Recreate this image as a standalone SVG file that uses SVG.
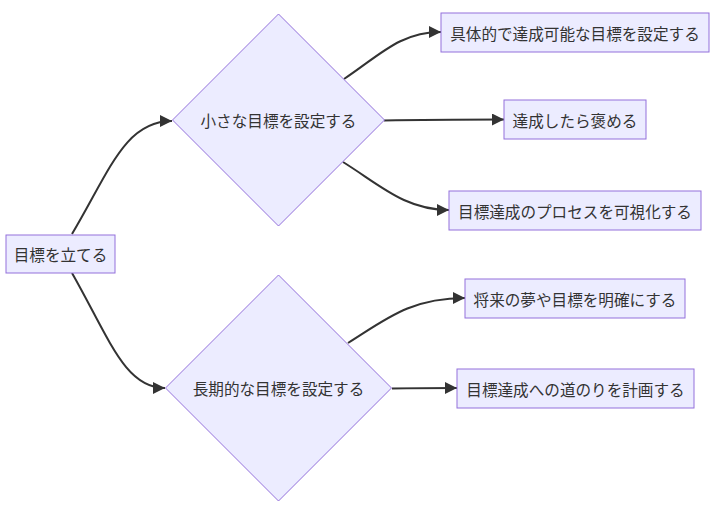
<svg xmlns="http://www.w3.org/2000/svg" width="724" height="512" viewBox="0 0 724 512">
<style>
.node rect, .node polygon { fill: #ECECFF; stroke: #9370DB; stroke-width: 1; }
.node text { font-family: "Noto Sans CJK JP", "Noto Sans", sans-serif; font-size: 15.6px; fill: #333333; text-anchor: middle; dominant-baseline: central; }
.edges path { fill: none; stroke: #333333; stroke-width: 2; }
</style>
<defs>
<marker id="arrow" viewBox="0 0 10 10" refX="10" refY="5" markerUnits="userSpaceOnUse" markerWidth="12" markerHeight="12" orient="auto">
<path d="M0,0 L10,5 L0,10 z" fill="#333333"/>
</marker>
</defs>
<rect width="724" height="512" fill="#ffffff"/>
<g class="edges">
<path d="M72,234 C110,170 125,121 172,121" marker-end="url(#arrow)"/>
<path d="M72,273 C110,340 125,388 165,388" marker-end="url(#arrow)"/>
<path d="M344,79 C380,55 400,32 441,32" marker-end="url(#arrow)"/>
<path d="M384,120.5 C430,119.5 460,119.5 504,119.5" marker-end="url(#arrow)"/>
<path d="M343,162 C380,185 405,210 449,210" marker-end="url(#arrow)"/>
<path d="M348,343 C385,320 410,298 465,298" marker-end="url(#arrow)"/>
<path d="M392,388.5 C420,388 430,388 457,388" marker-end="url(#arrow)"/>
</g>
<g id="root" class="node">
<rect x="6" y="235" width="109" height="38"/>
<text x="60.5" y="254">目標を立てる</text>
</g>
<g id="small" class="node">
<polygon points="278.5,14 384.5,120 278.5,226 172.5,120"/>
<text x="278.5" y="120">小さな目標を設定する</text>
</g>
<g id="long" class="node">
<polygon points="278.5,275 391.5,388 278.5,501 165.5,388"/>
<text x="278.5" y="388">長期的な目標を設定する</text>
</g>
<g id="b1" class="node">
<rect x="441" y="13" width="268" height="39"/>
<text x="575" y="32.5">具体的で達成可能な目標を設定する</text>
</g>
<g id="b2" class="node">
<rect x="504" y="100" width="142" height="39"/>
<text x="575" y="119.5">達成したら褒める</text>
</g>
<g id="b3" class="node">
<rect x="449" y="191" width="252" height="39"/>
<text x="575" y="210.5">目標達成のプロセスを可視化する</text>
</g>
<g id="b4" class="node">
<rect x="465" y="279" width="220" height="39"/>
<text x="575" y="298.5">将来の夢や目標を明確にする</text>
</g>
<g id="b5" class="node">
<rect x="457" y="369" width="237" height="39"/>
<text x="575.5" y="388.5">目標達成への道のりを計画する</text>
</g>
</svg>
